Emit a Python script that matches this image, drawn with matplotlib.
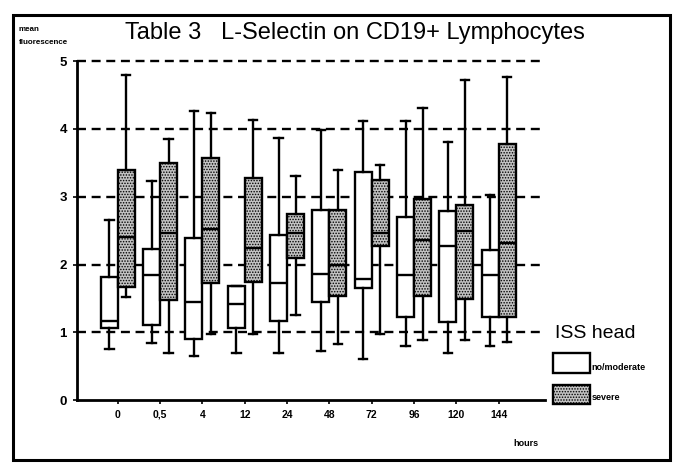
import matplotlib
matplotlib.use("Agg")
import matplotlib.pyplot as plt
from matplotlib.patches import Rectangle

plt.rcParams['font.family'] = ['Liberation Sans', 'DejaVu Sans']
plt.rcParams['hatch.color'] = '#444444'
plt.rcParams['hatch.linewidth'] = 0.7

# ---- data ----
hours = ["0", "0,5", "4", "12", "24", "48", "72", "96", "120", "144"]

# no/moderate ISS head
mod_whislo = [0.75, 0.85, 0.65, 0.70, 0.70, 0.73, 0.60, 0.80, 0.69, 0.80]
mod_q1     = [1.06, 1.11, 0.90, 1.07, 1.16, 1.44, 1.66, 1.22, 1.15, 1.23]
mod_med    = [1.17, 1.85, 1.44, 1.42, 1.73, 1.86, 1.79, 1.85, 2.27, 1.85]
mod_q3     = [1.81, 2.23, 2.39, 1.69, 2.43, 2.81, 3.37, 2.70, 2.79, 2.22]
mod_whishi = [2.65, 3.23, 4.26, 1.69, 3.86, 3.99, 4.11, 4.11, 3.81, 3.02]

# severe ISS head
sev_whislo = [1.52, 0.69, 0.98, 0.97, 1.25, 0.83, 0.97, 0.89, 0.88, 0.86]
sev_q1     = [1.67, 1.48, 1.72, 1.74, 2.09, 1.53, 2.28, 1.53, 1.49, 1.23]
sev_med    = [2.40, 2.47, 2.53, 2.25, 2.47, 1.99, 2.46, 2.36, 2.49, 2.32]
sev_q3     = [3.40, 3.49, 3.57, 3.28, 2.75, 2.81, 3.25, 2.96, 2.88, 3.78]
sev_whishi = [4.79, 3.85, 4.24, 4.13, 3.30, 3.40, 3.46, 4.30, 4.72, 4.77]

grid_levels = [1, 2, 3, 4, 5]


def make_stats(lo, q1, med, q3, hi):
    return [dict(whislo=a, q1=b, med=c, q3=d, whishi=e, fliers=[])
            for a, b, c, d, e in zip(lo, q1, med, q3, hi)]


fig = plt.figure(figsize=(6.85, 4.73), dpi=100)
ax = fig.add_axes([0.112, 0.154, 0.684, 0.717])

# dashed grid lines
for lv in grid_levels:
    ax.axhline(lv, color="black", lw=1.7, ls=(0, (3.8, 2.4)), zorder=1, clip_on=False)

idx = range(len(hours))
lw = 1.7
sev_color = "#c2c2c2"
common = dict(widths=0.4, showfliers=False, patch_artist=True, manage_ticks=False,
              whiskerprops=dict(color="black", lw=lw),
              capprops=dict(color="black", lw=lw),
              medianprops=dict(color="black", lw=lw),
              zorder=3)

b1 = ax.bxp(make_stats(mod_whislo, mod_q1, mod_med, mod_q3, mod_whishi),
            positions=[i - 0.2 for i in idx],
            boxprops=dict(facecolor="white", edgecolor="black", lw=lw), **common)
b2 = ax.bxp(make_stats(sev_whislo, sev_q1, sev_med, sev_q3, sev_whishi),
            positions=[i + 0.2 for i in idx],
            boxprops=dict(facecolor=sev_color, edgecolor="black", lw=lw, hatch="......"),
            **common)

ax.set_xlim(-0.97, 10.1)
ax.set_ylim(0, 5)
ax.set_xticks(list(idx))
ax.set_xticklabels(hours, fontsize=7.5, fontweight="bold")
ax.set_yticks([0, 1, 2, 3, 4, 5])
ax.set_yticklabels(["0", "1", "2", "3", "4", "5"], fontsize=9.5, fontweight="bold")
ax.tick_params(axis="both", length=3, width=1.2, direction="out", pad=4)
for s in ["top", "right"]:
    ax.spines[s].set_visible(False)
for s in ["left", "bottom"]:
    ax.spines[s].set_linewidth(2)

# titles and labels
fig.text(0.183, 0.930, "Table 3   L-Selectin on CD19+ Lymphocytes", fontsize=17,
         va="center", ha="left")
fig.text(0.027, 0.938, "mean", fontsize=5.8, fontweight="bold", va="center")
fig.text(0.027, 0.910, "fluorescence", fontsize=5.8, fontweight="bold", va="center")
fig.text(0.750, 0.063, "hours", fontsize=6.5, fontweight="bold", va="center")

# legend
fig.text(0.810, 0.295, "ISS head", fontsize=14, va="center")
fig.patches.append(Rectangle((0.808, 0.212), 0.053, 0.042, transform=fig.transFigure,
                             facecolor="white", edgecolor="black", lw=1.7))
fig.text(0.864, 0.222, "no/moderate", fontsize=6.5, fontweight="bold", va="center")
fig.patches.append(Rectangle((0.808, 0.146), 0.053, 0.040, transform=fig.transFigure,
                             facecolor=sev_color, edgecolor="black", lw=1.7, hatch="......"))
fig.text(0.864, 0.160, "severe", fontsize=6.5, fontweight="bold", va="center")

# outer frame
fig.patches.append(Rectangle((0.019, 0.027), 0.959, 0.941, transform=fig.transFigure,
                             fill=False, edgecolor="black", lw=2.2))

fig.savefig("out.png", dpi=100)
